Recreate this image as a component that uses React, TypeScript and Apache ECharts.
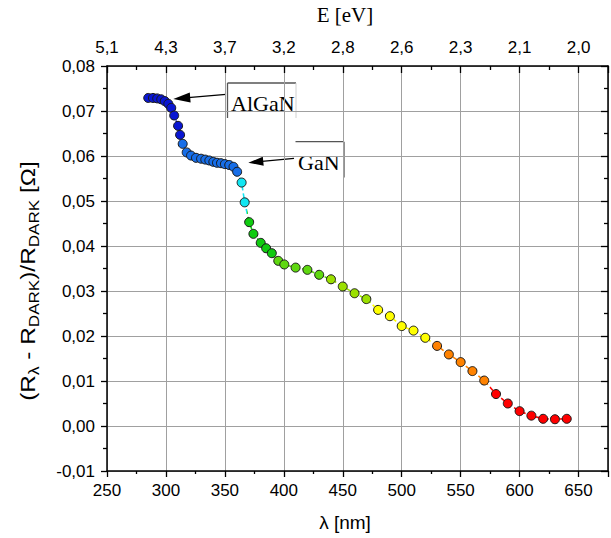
import React, { useEffect, useRef } from "react";
import * as echarts from "echarts";

// wavelength [nm]
const wavelength = [
  285, 289, 292.6, 296, 299, 302, 304.5, 307, 310.3, 312, 314.2, 317.6, 321.3,
  325.5, 329.8, 333.4, 336.8, 340.2, 343.3, 346.7, 350, 353.7, 357.3, 360.4,
  364.2, 366.8, 370.6, 374.2, 380.4, 385, 389.8, 395.3, 400.4, 410, 420, 430,
  440, 450, 460, 470, 480, 490, 500, 510, 520, 530, 540, 550, 560, 570, 580,
  590, 600, 610, 620, 630, 640,
];
// (R_lambda - R_DARK)/R_DARK
const response = [
  0.0729, 0.0729, 0.0728, 0.0726, 0.0722, 0.0716, 0.0707, 0.069, 0.0667,
  0.0647, 0.0627, 0.0608, 0.0601, 0.0596, 0.0594, 0.0592, 0.059, 0.0587,
  0.0585, 0.0584, 0.0582, 0.058, 0.0576, 0.0565, 0.0541, 0.0497, 0.0453,
  0.0427, 0.0407, 0.0395, 0.0384, 0.0367, 0.0359, 0.0352, 0.0347, 0.0336,
  0.0326, 0.031, 0.0295, 0.0282, 0.0258, 0.0244, 0.0222, 0.0212, 0.0196,
  0.0178, 0.0159, 0.0142, 0.0122, 0.0101, 0.0071, 0.005, 0.0033, 0.0023,
  0.0016, 0.0015, 0.0016,
];
// top axis: photon energy labels at bottom-axis ticks
const topTickNm = [250, 300, 350, 400, 450, 500, 550, 600, 650];
const topTickLabels = ["5,1", "4,3", "3,7", "3,2", "2,8", "2,6", "2,3", "2,1", "2,0"];
// colour bands by wavelength
const bandEdges = [313, 363, 369, 392, 440, 475, 525, 575];
const bandColors = [
  "#0a16d2", "#176ee8", "#10e6f2", "#10cc10", "#5fd810", "#9be000",
  "#ffff00", "#ff8200", "#ff0000",
];

const SANS = "Liberation Sans";
const SERIF = "Liberation Serif";

export default function App() {
  const ref = useRef<HTMLDivElement>(null);
  useEffect(() => {
    if (!ref.current) return;
    const chart = echarts.init(ref.current, undefined, { renderer: "svg" });
    const data = wavelength.map((w, i) => [w, response[i]]);
    const pieces: any[] = [];
    for (let i = 0; i < bandColors.length; i++) {
      const p: any = { color: bandColors[i] };
      if (i > 0) p.gte = bandEdges[i - 1];
      if (i < bandEdges.length) p.lt = bandEdges[i];
      pieces.push(p);
    }
    const black = "#000";
    const axisLine = { show: true, onZero: false, lineStyle: { color: black, width: 1.5 } };
    const labelBase = { color: black, fontFamily: SANS, fontSize: 17 };
    const gridLine = { show: true, lineStyle: { color: "#a0a0a0", width: 1 } };
    const yFmt = (v: number) => (Math.abs(v) < 1e-9 ? 0 : v).toFixed(2).replace(".", ",");

    const dark = "#555";
    const option: any = {
      animation: false,
      grid: { left: 107, right: 1, top: 66, bottom: 67, containLabel: false },
      xAxis: [
        {
          type: "value", position: "bottom", min: 250, max: 675, interval: 50,
          axisLine,
          axisTick: { show: true, inside: false, length: 6, lineStyle: { color: black, width: 1.3 } },
          minorTick: { show: true, splitNumber: 2, length: 3, lineStyle: { color: black, width: 1.3 } },
          splitLine: gridLine,
          axisLabel: {
            ...labelBase, margin: 11,
            formatter: (v: number) => (v % 50 === 0 && v <= 650 ? String(v) : ""),
          },
        },
        {
          type: "value", position: "top", min: 250, max: 675, interval: 50,
          axisLine,
          axisTick: { show: true, inside: true, length: 7, lineStyle: { color: black, width: 1.3 } },
          minorTick: { show: true, splitNumber: 2, length: 4, lineStyle: { color: black, width: 1.3 } },
          splitLine: { show: false },
          axisLabel: {
            ...labelBase, margin: 10,
            formatter: (v: number) => {
              const k = topTickNm.indexOf(Math.round(v));
              return k >= 0 ? topTickLabels[k] : "";
            },
          },
        },
      ],
      yAxis: [
        {
          type: "value", position: "left", min: -0.01, max: 0.08, interval: 0.01,
          axisLine,
          axisTick: { show: true, inside: false, length: 6, lineStyle: { color: black, width: 1.3 } },
          minorTick: { show: true, splitNumber: 2, length: 4, lineStyle: { color: black, width: 1.3 } },
          splitLine: gridLine,
          axisLabel: { ...labelBase, margin: 12, formatter: yFmt },
        },
        {
          type: "value", position: "right", min: -0.01, max: 0.08, interval: 0.01,
          axisLine,
          axisTick: { show: true, inside: true, length: 7, lineStyle: { color: black, width: 1.3 } },
          minorTick: { show: true, splitNumber: 2, length: 4, lineStyle: { color: black, width: 1.3 } },
          splitLine: { show: false },
          axisLabel: { show: false },
        },
      ],
      visualMap: {
        type: "piecewise", show: false, dimension: 0, seriesIndex: 0, pieces,
      },
      series: [
        {
          type: "line", xAxisIndex: 0, yAxisIndex: 0, data,
          symbol: "circle", symbolSize: 9,
          itemStyle: { borderColor: "#1a1a1a", borderWidth: 1 },
          lineStyle: { width: 1.6, type: [5, 3] },
          z: 5,
        },
      ],
      graphic: [
        {
          type: "text", x: 345, y: 15,
          style: { text: "E [eV]", fontFamily: SERIF, fontSize: 21, fill: black, align: "center", verticalAlign: "middle" },
        },
        {
          type: "text", x: 345, y: 522,
          style: { text: "λ [nm]", fontFamily: SANS, fontSize: 19, fill: black, align: "center", verticalAlign: "middle" },
        },
        {
          type: "text", x: 28, y: 281, rotation: Math.PI / 2, scaleX: 1.22,
          style: {
            text: "{m|(R}{s|λ}{m| - R}{s|DARK}{m|)/R}{s|DARK}{m| [Ω]}",
            align: "center", verticalAlign: "middle", fill: black,
            rich: {
              m: { fontFamily: SANS, fontSize: 20, lineHeight: 27, verticalAlign: "middle", fill: black },
              s: { fontFamily: SANS, fontSize: 14, verticalAlign: "bottom", fill: black },
            },
          },
        },
        // AlGaN label box
        { type: "line", shape: { x1: 227.5, y1: 83, x2: 296, y2: 83 }, style: { stroke: dark, lineWidth: 1.3 } },
        { type: "line", shape: { x1: 227.5, y1: 83, x2: 227.5, y2: 118 }, style: { stroke: dark, lineWidth: 1.3 } },
        { type: "line", shape: { x1: 296, y1: 83, x2: 296, y2: 118 }, style: { stroke: "#d0d0d0", lineWidth: 1 } },
        {
          type: "text", x: 231, y: 103,
          style: { text: "AlGaN", fontFamily: SERIF, fontSize: 22, fill: black, align: "left", verticalAlign: "middle" },
        },
        { type: "line", shape: { x1: 226, y1: 94.3, x2: 188, y2: 97.6 }, style: { stroke: black, lineWidth: 1.3 } },
        { type: "polygon", shape: { points: [[173.3, 99], [190.6, 102.5], [189.8, 92.5]] }, style: { fill: black } },
        // GaN label box
        { type: "line", shape: { x1: 295.5, y1: 141.7, x2: 344, y2: 141.7 }, style: { stroke: dark, lineWidth: 1.3 } },
        { type: "line", shape: { x1: 344, y1: 141.7, x2: 344, y2: 177.5 }, style: { stroke: dark, lineWidth: 1.3 } },
        {
          type: "text", x: 298, y: 162,
          style: { text: "GaN", fontFamily: SERIF, fontSize: 22, fill: black, align: "left", verticalAlign: "middle" },
        },
        { type: "line", shape: { x1: 294, y1: 158.3, x2: 262, y2: 161.4 }, style: { stroke: black, lineWidth: 1.3 } },
        { type: "polygon", shape: { points: [[248.3, 162.7], [263.7, 165.8], [262.8, 156.8]] }, style: { fill: black } },
      ],
    };
    chart.setOption(option);
    return () => chart.dispose();
  }, []);
  return (
    <div
      ref={ref}
      style={{ position: "fixed", left: 0, top: 0, width: 611, height: 538, background: "#fff" }}
    />
  );
}
